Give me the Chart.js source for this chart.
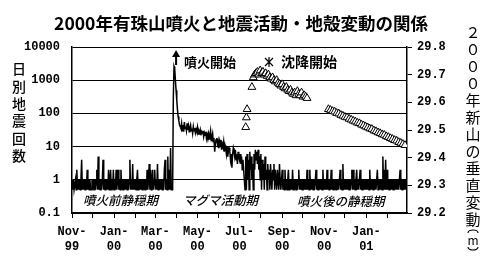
<!DOCTYPE html>
<html>
<head>
<meta charset="utf-8">
<script src="https://cdn.jsdelivr.net/npm/chart.js@4.4.1/dist/chart.umd.min.js"></script>
<style>
  html, body { margin: 0; padding: 0; background: #fff; }
</style>
</head>
<body>
<canvas id="chart" width="484" height="263"></canvas>
<script>
// daily earthquake counts, day 0 = 1 Nov 1999 (0 counts drawn as 0.5)
var quakeBefore = [
    1,.5,1,.5,.5,1,.5,2,.5,1,
    .5,1,.5,1,4,.5,1,.5,1,.5,
    1,.5,2,.5,1,.5,1,.5,.5,1,
    .5,1,.5,1,.5,1,2,.5,5,.5,
    1,.5,1,.5,1,4,.5,1,.5,1,
    .5,1,.5,2,.5,1,2,.5,1,.5,
    2,.5,1,.5,2,.5,1,2,.5,1,
    .5,2,.5,1,.5,1,.5,1,.5,1,
    .5,1,.5,1,4,.5,1,.5,3,.5,
    1,.5,1,.5,1,2,.5,1,.5,1,
    .5,1,.5,1,.5,1,.5,1,.5,2,
    .5,1,3,.5,2,.5,1,2,.5,1,
    2,.5,1,.5,3,.5,1,.5,1,.5,
    1,.5,1,.5,2,4,.5,1,.5,5,
    .5,2,.5,9,.5,.5,.5
];
var quakeMagma = [
    300,2600,2200,1000,500,250,130,80,60,45,40,
    35,50,30,45,28,55,35,40,30,50,
    32,42,28,38,45,30,35,25,40,30,
    36,26,33,28,38,24,30,26,32,22,
    28,25,30,20,26,22,28,18,24,20,
    25,17,22,30,15,20,25,14,18,7,
    12,16,
    18,12,15,9,14,10,16,8,12,10,
    14,7,11,9,6,10,5,8,9,7,
    4,6,
    2.3,6,9,7,5,8,4,6,3,7,
    5,4,6,3,5,2,4,2,1,.5,
    5,.5,6,1,4,.5,7,2,5,1,
    3,.5,6,2,8,4,7,3,8,2,
    5,1,6,.5,4,1,3,.5,5,1,
    2,.5,
    3,1,2,.5,3,1,.5,2,1,3,
    .5,2,1,.5,2,1,.5,3,1,.5,
    1,2,.5
];
var quakeAfter = [
    1,.5,2,.5,1,.5,1,2,.5,1,
    .5,1,.5,2,.5,1,.5,1,.5,1,
    .5,1,2,.5,1,.5,1,.5,1,.5,
    1,.5,1,.5,2,.5,1,.5,2,.5,
    1,.5,1,.5,1,.5,1,2,.5,1,
    .5,1,.5,1,.5,1,.5,2,.5,1,
    .5,1,.5,2,.5,1,.5,1,.5,2,
    .5,1,.5,1,.5,1,.5,1,.5,1,
    .5,1,2,.5,1,.5,3,.5,1,.5,
    1,.5,1,.5,1,.5,1,.5,1,2,
    .5,2,.5,1,.5,1,2,.5,1,.5,
    1,2,.5,1,.5,1,.5,1,.5,1,
    .5,1,.5,1,.5,2,.5,1,.5,1,
    .5,1,.5,1,.5,1,2,.5,1,.5,
    1,.5,1,.5,5,.5,2,.5,4,.5,
    2,.5,1,.5,1,.5,1,.5,1,.5,
    1,.5,1,.5,1,.5,1,.5,1,2,
    .5,1,.5,1,.5,1,.5,1,.5
];

// vertical position of the new dome (m)
var upliftDays = [252,253,254,261,263,265,267,269,271,273,275,277,279,281,283,285,287,289,291,293,
    295,297,299,301,303,305,307,309,311,313,315,317,319,321,323,325,327,329,331,333,335,337,339,341];
var upliftValues = [29.51,29.545,29.575,29.655,29.69,29.70,29.705,29.71,29.70,29.715,29.705,29.71,29.70,29.705,29.695,29.70,29.69,29.685,29.69,29.68,
    29.675,29.68,29.67,29.665,29.66,29.665,29.655,29.65,29.655,29.645,29.64,29.645,29.635,29.63,29.635,29.625,29.64,29.63,29.625,29.635,29.62,29.625,29.62,29.615];
var sinkDays = [372,375,378,381,384,387,390,393,396,399,402,405,408,411,414,417,420,423,426,429,
    432,435,438,441,444,447,450,453,456,459,462,465,468,471,474,477,480,483];
var sinkValues = [29.575,29.572,29.568,29.566,29.561,29.559,29.554,29.551,29.547,29.545,29.540,29.537,29.533,29.530,29.526,29.524,29.519,29.516,29.512,29.509,
    29.505,29.503,29.498,29.495,29.491,29.488,29.484,29.482,29.477,29.474,29.470,29.467,29.463,29.461,29.456,29.453,29.449,29.445];

var monthTicks = [0,30,61,92,121,152,182,213,243,274,305,335,366,396,427,458];
var monthLabels = {0:['Nov-','99'], 61:['Jan-','00'], 121:['Mar-','00'], 182:['May-','00'],
    243:['Jul-','00'], 305:['Sep-','00'], 366:['Nov-','00'], 427:['Jan-','01']};
var countTicks = [0.1,1,10,100,1000,10000];
var heightTicks = [29.2,29.3,29.4,29.5,29.6,29.7,29.8];
var eruptionDay = 151;

var quakeCounts = quakeBefore.concat(quakeMagma, quakeAfter);
var quakePoints = quakeCounts.map(function(v, i){ return {x: i, y: v}; });
var upliftPoints = upliftDays.map(function(d, i){ return {x: d, y: upliftValues[i]}; });
var sinkPoints = sinkDays.map(function(d, i){ return {x: d, y: sinkValues[i]}; });

var JP = '"Noto Sans CJK JP", sans-serif';
var MONO = '"Liberation Mono", "DejaVu Sans Mono", monospace';

var decorations = {
    id: 'decorations',
    afterDraw: function(chart){
        var ctx = chart.ctx;
        var x = chart.scales.x;
        ctx.save();
        ctx.fillStyle = '#000';
        ctx.strokeStyle = '#000';
        ctx.textBaseline = 'middle';

        // title
        ctx.textAlign = 'center';
        ctx.font = 'bold 17.5px ' + JP;
        ctx.fillText('2000年有珠山噴火と地震活動・地殻変動の関係', 241, 23);

        // left axis title, stacked
        ctx.font = '500 14px ' + JP;
        '日別地震回数'.split('').forEach(function(ch, i){
            ctx.fillText(ch, 19, 69 + i * 17.3);
        });

        // right axis title, stacked
        ctx.font = '15px ' + JP;
        var chars = ['２','０','０','０','年','新','山','の','垂','直','変','動'];
        chars.forEach(function(ch, i){
            ctx.fillText(ch, 473, 32 + i * 17);
        });
        // (m) in vertical form
        ctx.lineWidth = 1.2;
        ctx.beginPath();
        ctx.ellipse(473, 233, 5, 3, 0, Math.PI, 2 * Math.PI);
        ctx.stroke();
        ctx.beginPath();
        ctx.ellipse(473, 247, 5, 3, 0, 0, Math.PI);
        ctx.stroke();
        ctx.font = '12px ' + JP;
        ctx.fillText('m', 473, 240);

        // eruption arrow
        var ax = x.getPixelForValue(eruptionDay);
        ctx.beginPath();
        ctx.moveTo(ax, 50);
        ctx.lineTo(ax - 4, 57);
        ctx.lineTo(ax + 4, 57);
        ctx.closePath();
        ctx.fill();
        ctx.fillRect(ax - 1, 56, 2, 9);
        ctx.textAlign = 'left';
        ctx.font = 'bold 13px ' + JP;
        ctx.fillText('噴火開始', ax + 8, 62);

        // subsidence mark
        var sx = 269, sy = 62;
        ctx.lineWidth = 1.2;
        ctx.beginPath();
        ctx.moveTo(sx, sy - 5); ctx.lineTo(sx, sy + 5);
        ctx.moveTo(sx - 4, sy - 4); ctx.lineTo(sx + 4, sy + 4);
        ctx.moveTo(sx + 4, sy - 4); ctx.lineTo(sx - 4, sy + 4);
        ctx.stroke();
        ctx.font = 'bold 14px ' + JP;
        ctx.fillText('沈降開始', 281, 62);

        // period labels
        ctx.font = 'italic 500 12.5px ' + JP;
        ctx.fillText('噴火前静穏期', 83, 200);
        ctx.fillText('マグマ活動期', 183, 200);
        ctx.fillText('噴火後の静穏期', 297, 201);
        ctx.restore();
    }
};

new Chart(document.getElementById('chart'), {
    type: 'line',
    data: {
        datasets: [
            {
                label: '隆起',
                data: upliftPoints,
                yAxisID: 'y2',
                showLine: false,
                pointStyle: 'triangle',
                pointRadius: 4.5,
                pointBackgroundColor: '#fff',
                pointBorderColor: '#000',
                pointBorderWidth: 1
            },
            {
                label: '沈降',
                data: sinkPoints,
                yAxisID: 'y2',
                showLine: false,
                pointStyle: 'triangle',
                pointRadius: 4.5,
                pointBackgroundColor: '#fff',
                pointBorderColor: '#000',
                pointBorderWidth: 1
            },
            {
                label: '日別地震回数',
                data: quakePoints,
                yAxisID: 'y',
                borderColor: '#000',
                borderWidth: 1.5,
                pointRadius: 0,
                tension: 0
            }
        ]
    },
    options: {
        responsive: false,
        animation: false,
        devicePixelRatio: 1,
        layout: { padding: { top: 47, left: 0, right: 0, bottom: 0 } },
        plugins: { legend: { display: false }, tooltip: { enabled: false } },
        scales: {
            x: {
                type: 'linear',
                min: 0,
                max: 486,
                afterBuildTicks: function(s){ s.ticks = monthTicks.map(function(v){ return {value: v}; }); },
                afterFit: function(s){ s.height = 50; },
                grid: { drawOnChartArea: false, color: '#000', tickLength: 5 },
                border: { color: '#000', width: 1.5 },
                ticks: {
                    autoSkip: false,
                    maxRotation: 0,
                    padding: 6,
                    color: '#000',
                    font: { family: MONO, size: 12, weight: 'bold', lineHeight: 1.25 },
                    callback: function(v){ return monthLabels[v] || ''; }
                }
            },
            y: {
                type: 'logarithmic',
                position: 'left',
                min: 0.1,
                max: 10000,
                afterBuildTicks: function(s){ s.ticks = countTicks.map(function(v){ return {value: v}; }); },
                afterFit: function(s){ s.width = 72; },
                grid: { color: '#000', drawTicks: false },
                border: { color: '#000', width: 1.5 },
                ticks: {
                    padding: 12,
                    color: '#000',
                    font: { family: MONO, size: 12, weight: 'bold' },
                    callback: function(v){ return String(v); }
                }
            },
            y2: {
                type: 'linear',
                position: 'right',
                min: 29.2,
                max: 29.8,
                afterBuildTicks: function(s){ s.ticks = heightTicks.map(function(v){ return {value: v}; }); },
                afterFit: function(s){ s.width = 77; },
                grid: { drawOnChartArea: false, color: '#000', tickLength: 5 },
                border: { color: '#000', width: 1.5 },
                ticks: {
                    padding: 5,
                    color: '#000',
                    font: { family: MONO, size: 12, weight: 'bold' },
                    callback: function(v){ return v.toFixed(1); }
                }
            }
        }
    },
    plugins: [decorations]
});
</script>
</body>
</html>
